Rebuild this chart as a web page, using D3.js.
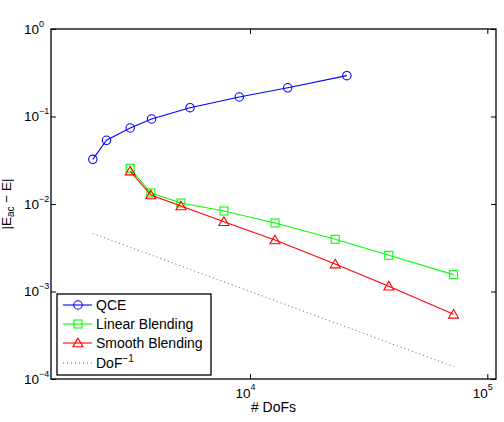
<!DOCTYPE html>
<html>
<head>
<meta charset="utf-8">
<script src="https://cdn.jsdelivr.net/npm/d3@7"></script>
<style>
  body { margin: 0; background: #fff; }
  svg text { font-family: "Liberation Sans", Arial, Helvetica, sans-serif; fill: #000; }
</style>
</head>
<body>
<svg id="chart" width="504" height="422"></svg>
<script>
// values (log-log)
const qceN = [2176, 2484, 3126, 3846, 5586, 9014, 14420, 25590];
const qceErr = [0.0324, 0.0535, 0.0739, 0.0936, 0.126, 0.167, 0.213, 0.293];

const blendN = [3126, 3820, 5117, 7761, 12743, 22860, 38450, 72070];
const linearErr = [0.0256, 0.01336, 0.01026, 0.00832, 0.00607, 0.00395, 0.00259, 0.00156];
const smoothErr = [0.0238, 0.01267, 0.00949, 0.00628, 0.00388, 0.00206, 0.00115, 0.000549];

const refN = [2176, 72070];
const refErr = [0.0046, 0.000139];

const xTicks = [1e4, 1e5];
const xTickExp = ["4", "5"];
const yTicks = [1, 1e-1, 1e-2, 1e-3, 1e-4];
const yTickExp = ["0", "\u22121", "\u22122", "\u22123", "\u22124"];

const margin = {top: 29, right: 8, bottom: 43, left: 51};
const W = 504, H = 422;
const width = W - margin.left - margin.right;
const height = H - margin.top - margin.bottom;

const x = d3.scaleLog().domain([1450, 108800]).range([0, width]);
const y = d3.scaleLog().domain([1e-4, 1]).range([height, 0]);

const svg = d3.select("#chart");
const g = svg.append("g").attr("transform", "translate(" + margin.left + "," + margin.top + ")");

// ticks (inward, on all four sides)
const tick = 5;
g.append("g").attr("transform", "translate(0," + height + ")")
  .call(d3.axisBottom(x).tickValues(xTicks).tickSize(-tick).tickFormat(""));
g.append("g")
  .call(d3.axisTop(x).tickValues(xTicks).tickSize(-tick).tickFormat(""));
g.append("g")
  .call(d3.axisLeft(y).tickValues(yTicks).tickSize(-tick).tickFormat(""));
g.append("g").attr("transform", "translate(" + width + ",0)")
  .call(d3.axisRight(y).tickValues(yTicks).tickSize(-tick).tickFormat(""));
g.selectAll(".domain").remove();
g.selectAll(".tick line").attr("stroke", "#000").attr("stroke-width", 1);

// box
g.append("rect").attr("width", width).attr("height", height)
  .attr("fill", "none").attr("stroke", "#000").attr("stroke-width", 1.3);

// tick labels
xTicks.forEach((t, i) => {
  g.append("text").attr("x", x(t) + 0.5).attr("y", height + 19)
    .attr("text-anchor", "end").attr("font-size", 13.5).text("10");
  g.append("text").attr("x", x(t) + 0.5).attr("y", height + 11)
    .attr("font-size", 9).text(xTickExp[i]);
});
yTicks.forEach((t, i) => {
  g.append("text").attr("x", -12).attr("y", y(t) + 4.8)
    .attr("text-anchor", "end").attr("font-size", 13.5).text("10");
  g.append("text").attr("x", -12).attr("y", y(t) - 2.5)
    .attr("font-size", 9).text(yTickExp[i]);
});

// axis titles
svg.append("text").attr("x", margin.left + width / 2).attr("y", 412)
  .attr("text-anchor", "middle").attr("font-size", 14).text("# DoFs");
const yl = svg.append("text")
  .attr("transform", "translate(11," + (margin.top + height / 2) + ") rotate(-90)")
  .attr("text-anchor", "middle").attr("font-size", 13.5);
yl.append("tspan").text("|E");
yl.append("tspan").attr("font-size", 10).attr("dy", 3).text("ac");
yl.append("tspan").attr("dy", -3).text(" \u2212 E|");

// series
const line = d3.line().x(d => x(d[0])).y(d => y(d[1]));
const zip = (a, b) => a.map((v, i) => [v, b[i]]);

const tri = "M0,-4.8L5,3.8L-5,3.8Z";
const series = [
  {name: "QCE", color: "#0000ff", data: zip(qceN, qceErr), marker: "circle"},
  {name: "Linear Blending", color: "#00ff00", data: zip(blendN, linearErr), marker: "square"},
  {name: "Smooth Blending", color: "#ff0000", data: zip(blendN, smoothErr), marker: "triangle"}
];

function drawMarker(sel, kind, color) {
  if (kind === "circle") {
    sel.append("circle").attr("r", 4.2);
  } else if (kind === "square") {
    sel.append("rect").attr("x", -4).attr("y", -4).attr("width", 8).attr("height", 8);
  } else {
    sel.append("path").attr("d", tri);
  }
  sel.selectAll("*").attr("fill", "none").attr("stroke", color).attr("stroke-width", 1.1);
}

// reference slope line
g.append("path").datum(zip(refN, refErr)).attr("d", line)
  .attr("fill", "none").attr("stroke", "#333").attr("stroke-width", 0.8)
  .attr("stroke-dasharray", "1 3");

series.forEach(s => {
  g.append("path").datum(s.data).attr("d", line)
    .attr("fill", "none").attr("stroke", s.color).attr("stroke-width", 1.1);
  g.selectAll(null).data(s.data).enter().append("g")
    .attr("transform", d => "translate(" + x(d[0]) + "," + y(d[1]) + ")")
    .each(function() { drawMarker(d3.select(this), s.marker, s.color); });
});

// legend
const lg = svg.append("g").attr("transform", "translate(57,294)");
lg.append("rect").attr("width", 154).attr("height", 81)
  .attr("fill", "#fff").attr("stroke", "#000").attr("stroke-width", 1.3);
const rowY = [11, 30, 49, 69];
series.forEach((s, i) => {
  lg.append("line").attr("x1", 6).attr("x2", 35).attr("y1", rowY[i]).attr("y2", rowY[i])
    .attr("stroke", s.color).attr("stroke-width", 1.1);
  const m = lg.append("g").attr("transform", "translate(21," + rowY[i] + ")");
  drawMarker(m, s.marker, s.color);
  lg.append("text").attr("x", 39).attr("y", rowY[i] + 5).attr("font-size", 14).text(s.name);
});
lg.append("line").attr("x1", 6).attr("x2", 35).attr("y1", rowY[3]).attr("y2", rowY[3])
  .attr("stroke", "#333").attr("stroke-width", 0.8).attr("stroke-dasharray", "1 3");
const dl = lg.append("text").attr("x", 39).attr("y", rowY[3] + 5).attr("font-size", 14);
dl.append("tspan").text("DoF");
dl.append("tspan").attr("font-size", 10).attr("dy", -6).text("\u22121");
</script>
</body>
</html>
